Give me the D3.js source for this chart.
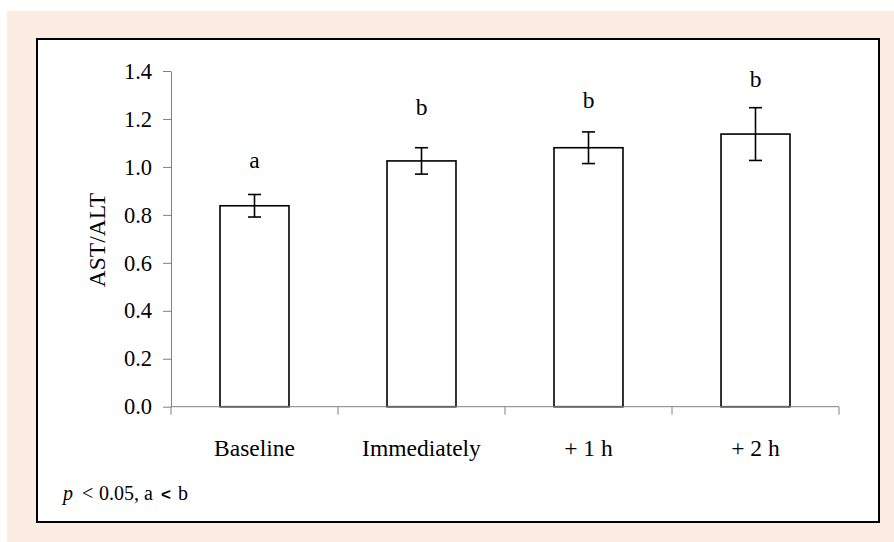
<!DOCTYPE html>
<html>
<head>
<meta charset="utf-8">
<script src="https://cdn.jsdelivr.net/npm/d3@7"></script>
<style>
  body { margin: 0; background: #fff; }
  svg text { font-family: "Liberation Serif", "Times New Roman", serif; fill: #000; }
</style>
</head>
<body>
<svg id="chart" width="894" height="542"></svg>
<script>
// values
const categories = ["Baseline", "Immediately", "+ 1 h", "+ 2 h"];
const means = [0.838, 1.025, 1.08, 1.137];
const errors = [0.047, 0.055, 0.066, 0.11];
const sigLetters = ["a", "b", "b", "b"];
const letterY = [0.996, 1.216, 1.247, 1.334]; // where the letters sit, in y units
const yTicks = [0, 0.2, 0.4, 0.6, 0.8, 1.0, 1.2, 1.4];

const svg = d3.select('#chart');

// peach backdrop + framed white panel
svg.append('rect')
    .attr('x', 7).attr('y', 11)
    .attr('width', 887).attr('height', 531)
    .attr('fill', '#fdece2');
svg.append('rect')
    .attr('x', 37).attr('y', 39)
    .attr('width', 842).attr('height', 483)
    .attr('fill', '#fff')
    .attr('stroke', '#000')
    .attr('stroke-width', 2);

const plotLeft = 171, plotRight = 839, plotTop = 71, plotBottom = 406.7;

let y = d3.scaleLinear().domain([0, 1.4]).range([plotBottom, plotTop]);

// cells (no padding) for the axis ticks, padded band for the bars
let xCell = d3.scaleBand().domain(categories).range([plotLeft, plotRight]).padding(0);
let x = d3.scaleBand().domain(categories).range([plotLeft, plotRight])
    .paddingInner(0.587).paddingOuter(0.2935);

// y axis
let yAxis = svg.append('g')
    .attr('transform', `translate(${plotLeft},0)`)
    .call(d3.axisLeft(y).tickValues(yTicks).tickFormat(d3.format('.1f'))
        .tickSize(8).tickPadding(11).tickSizeOuter(0));
yAxis.select('.domain').attr('stroke', '#808080');
yAxis.selectAll('.tick line').attr('stroke', '#808080');
yAxis.selectAll('.tick text')
    .attr('font-size', 22.5)
    .style('font-family', '"Liberation Serif", serif')
    .attr('fill', '#000');

// bars
svg.append('g').selectAll('rect')
    .data(categories)
    .join('rect')
    .attr('x', d => x(d))
    .attr('y', (d, i) => y(means[i]))
    .attr('width', x.bandwidth())
    .attr('height', (d, i) => plotBottom - y(means[i]))
    .attr('fill', '#fff')
    .attr('stroke', '#000')
    .attr('stroke-width', 1.6);

// x axis line with ticks on the cell boundaries
let xa = svg.append('g');
xa.append('line')
    .attr('x1', plotLeft).attr('x2', plotRight)
    .attr('y1', plotBottom).attr('y2', plotBottom)
    .attr('stroke', '#808080');
let bounds = categories.map(d => xCell(d)).concat([plotRight]);
xa.selectAll('line.tk')
    .data(bounds)
    .join('line')
    .attr('class', 'tk')
    .attr('x1', d => d).attr('x2', d => d)
    .attr('y1', plotBottom).attr('y2', plotBottom + 8)
    .attr('stroke', '#808080');

svg.append('g').selectAll('text')
    .data(categories)
    .join('text')
    .attr('x', d => xCell(d) + xCell.bandwidth() / 2)
    .attr('y', 456)
    .attr('text-anchor', 'middle')
    .attr('font-size', 23.5)
    .text(d => d);

// error bars
let eb = svg.append('g').attr('stroke', '#000').attr('stroke-width', 1.6);
categories.forEach((d, i) => {
    let cx = x(d) + x.bandwidth() / 2;
    let hi = y(means[i] + errors[i]), lo = y(means[i] - errors[i]);
    eb.append('line').attr('x1', cx).attr('x2', cx).attr('y1', hi).attr('y2', lo);
    eb.append('line').attr('x1', cx - 6.5).attr('x2', cx + 6.5).attr('y1', hi).attr('y2', hi);
    eb.append('line').attr('x1', cx - 6.5).attr('x2', cx + 6.5).attr('y1', lo).attr('y2', lo);
});

// significance letters
svg.append('g').selectAll('text')
    .data(sigLetters)
    .join('text')
    .attr('x', (d, i) => x(categories[i]) + x.bandwidth() / 2)
    .attr('y', (d, i) => y(letterY[i]))
    .attr('text-anchor', 'middle')
    .attr('font-size', 23.5)
    .text(d => d);

// y label
svg.append('text')
    .attr('transform', 'translate(105,240) rotate(-90)')
    .attr('text-anchor', 'middle')
    .attr('font-size', 23.5)
    .text('AST/ALT');

// footnote
let note = svg.append('text')
    .attr('y', 500)
    .attr('font-size', 20);
note.append('tspan').attr('x', 63).attr('font-style', 'italic').text('p');
note.append('tspan').attr('x', 82).text('<');
note.append('tspan').attr('x', 99).text('0.05, a');
note.append('tspan').attr('x', 161).style('font-family', '"Liberation Sans", sans-serif')
    .attr('font-weight', 'bold').attr('font-size', 17).text('<');
note.append('tspan').attr('x', 178).text('b');
</script>
</body>
</html>
